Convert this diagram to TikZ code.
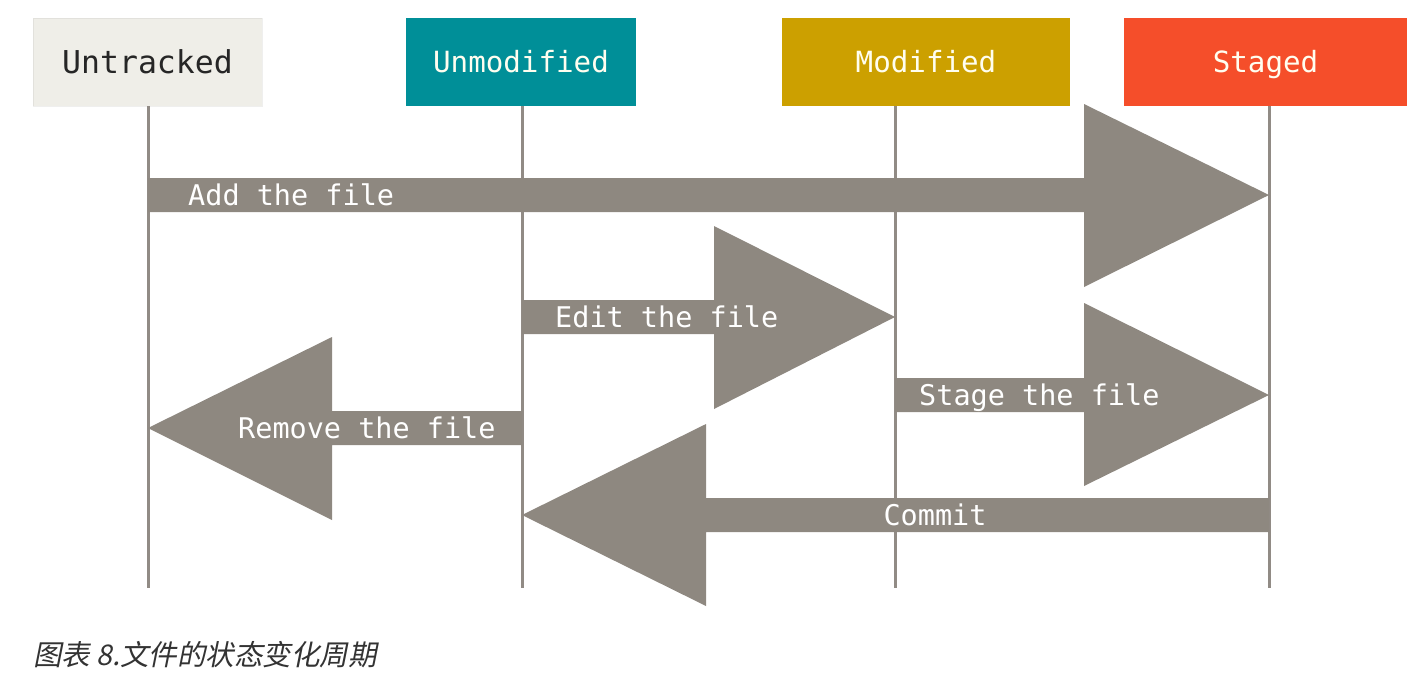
\documentclass[tikz,border=0pt]{standalone}
\usepackage{fontspec}
\setmonofont{DejaVu Sans Mono}
\newfontfamily\cjk[FakeSlant=0.2]{Noto Sans CJK SC}
\usetikzlibrary{calc}
\definecolor{arrgrey}{RGB}{142,136,128}
\definecolor{linegrey}{RGB}{145,139,133}
\definecolor{untrk}{RGB}{239,238,232}
\definecolor{unmod}{RGB}{0,143,152}
\definecolor{modif}{RGB}{204,160,0}
\definecolor{stage}{RGB}{245,78,42}
\definecolor{captxt}{RGB}{51,51,51}
\begin{document}
\begin{tikzpicture}[x=1pt,y=-1pt,
  hdr/.style={minimum height=88pt, inner sep=0pt, text height=21.5pt, text depth=0pt,
    font=\ttfamily\fontsize{29.2}{34}\selectfont, text=white!94!yellow},
  lbl/.style={inner sep=0pt, text height=20.8pt, text depth=0pt, text=white,
    font=\ttfamily\fontsize{28.5}{34}\selectfont},
  lane/.style={draw=linegrey, line width=3pt},
  fat/.style={fill=arrgrey}]
\useasboundingbox (0,0) rectangle (1427,683);
% headers
\node[hdr, fill=untrk, draw=untrk!80!black, draw opacity=0.25, minimum width=229pt, text=black!85,
  text height=23pt, font=\ttfamily\fontsize{31.5}{36}\selectfont] (ut) at (147.5,62) {Untracked};
\node[hdr, fill=unmod, minimum width=230pt] (um) at (521,62) {Unmodified};
\node[hdr, fill=modif, minimum width=288pt] (md) at (926,62) {Modified};
\node[hdr, fill=stage, minimum width=283pt] (st) at (1265.5,62) {Staged};
% lanes
\coordinate (ut0) at (148,106); \coordinate (ut1) at (148,588);
\coordinate (um0) at (522,106); \coordinate (um1) at (522,588);
\coordinate (md0) at (895,106); \coordinate (md1) at (895,588);
\coordinate (st0) at (1269,106); \coordinate (st1) at (1269,588);
\draw[lane] (ut0) -- (ut1);
\draw[lane] (um0) -- (um1);
\draw[lane] (md0) -- (md1);
\draw[lane] (st0) -- (st1);
% arrows
\fill[fat] (148,178) -- (1084,178) -- (1084,104) -- (1269,195) -- (1084,287) -- (1084,212) -- (148,212) -- cycle;
\fill[fat] (522,300) -- (714,300) -- (714,226) -- (895,317) -- (714,409) -- (714,334) -- (522,334) -- cycle;
\fill[fat] (895,378) -- (1084,378) -- (1084,303) -- (1269,395) -- (1084,486) -- (1084,412) -- (895,412) -- cycle;
\fill[fat] (522,411) -- (332,411) -- (332,337) -- (148,428) -- (332,520) -- (332,445) -- (522,445) -- cycle;
\fill[fat] (1269,498) -- (706,498) -- (706,424) -- (522,515) -- (706,606) -- (706,532) -- (1269,532) -- cycle;
% labels
\node[lbl, anchor=west] (la) at (188,195) {Add the file};
\node[lbl, anchor=west] (le) at (555,317) {Edit the file};
\node[lbl, anchor=west] (ls) at (919,395) {Stage the file};
\node[lbl, anchor=west] (lr) at (238,428) {Remove the file};
\node[lbl] (lc) at (935,515) {Commit};
% caption
\node[anchor=west, inner sep=0pt, text=captxt, font=\cjk\fontsize{28.5}{32}\selectfont] (cap) at (33,655) {图表 8.文件的状态变化周期};
\end{tikzpicture}
\end{document}
